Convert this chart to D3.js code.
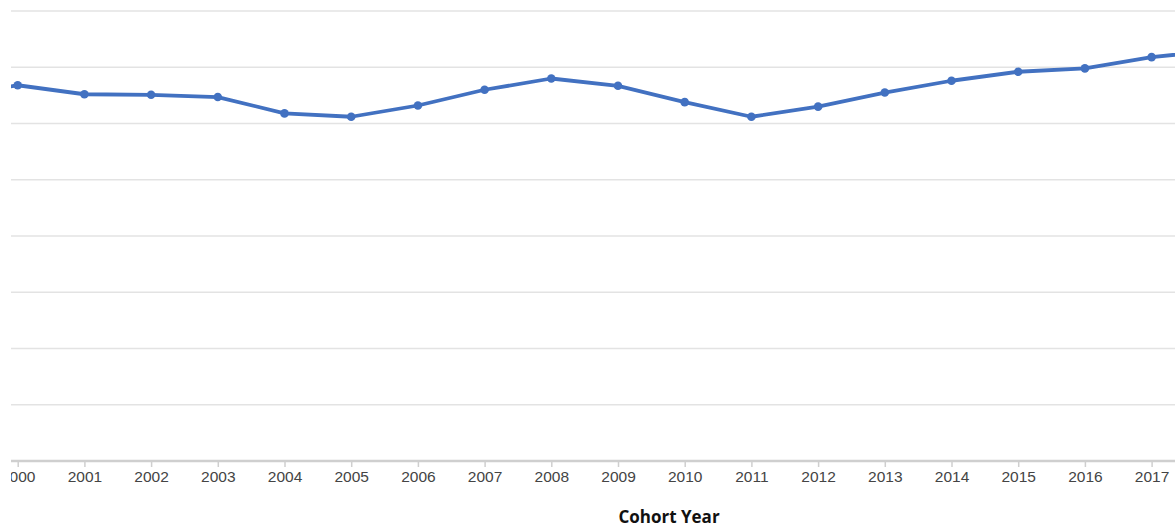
<!DOCTYPE html>
<html>
<head>
<meta charset="utf-8">
<script src="https://cdn.jsdelivr.net/npm/d3@7"></script>
<style>
  html, body { margin: 0; padding: 0; background: #fff; }
  svg { display: block; }
  .grid line { stroke: #e3e3e3; stroke-width: 1.5; }
  .x-axis .domain { stroke: #cfcfcf; stroke-width: 2.5; }
  .x-axis .tick line { stroke: #cfcfcf; stroke-width: 1.5; }
  .x-axis .tick text { font-family: "Liberation Sans", Arial, sans-serif; font-size: 15.5px; fill: #444; }
  .axis-title { font-family: "Open Sans", sans-serif; font-weight: bold; font-size: 17px; fill: #111; }
</style>
</head>
<body>
<div id="chart"></div>
<script>
// Cohort years (1999 and 2018 sit just outside the visible area)
var years = [1999, 2000, 2001, 2002, 2003, 2004, 2005, 2006, 2007, 2008,
             2009, 2010, 2011, 2012, 2013, 2014, 2015, 2016, 2017, 2018];
var rates = [64.9, 66.8, 65.2, 65.1, 64.7, 61.8, 61.2, 63.2, 66.0, 68.0,
             66.7, 63.8, 61.2, 63.0, 65.5, 67.6, 69.2, 69.8, 71.8, 73.0];
var gridValues = [0, 10, 20, 30, 40, 50, 60, 70, 80];
var xTitle = 'Cohort Year';

var width = 1175,
    height = 526,
    clipLeft = 11,
    baseY = 461,
    topY = 11;

var data = years.map(function(y, i) { return { year: y, value: rates[i] }; });

var svg = d3.select('#chart').append('svg')
    .attr('width', width)
    .attr('height', height);

svg.append('defs').append('clipPath')
    .attr('id', 'plot-clip')
  .append('rect')
    .attr('x', clipLeft)
    .attr('y', 0)
    .attr('width', width - clipLeft)
    .attr('height', height);

var x = d3.scaleLinear()
    .domain([2000, 2017])
    .range([17.7, 1151.6]);

var y = d3.scaleLinear()
    .domain([0, 80])
    .range([baseY, topY]);

var plot = svg.append('g')
    .attr('clip-path', 'url(#plot-clip)');

// Horizontal gridlines
plot.append('g')
    .attr('class', 'grid')
  .selectAll('line')
  .data(gridValues.filter(function(d) { return d > 0; }))
  .enter().append('line')
    .attr('x1', clipLeft)
    .attr('x2', width)
    .attr('y1', function(d) { return y(d); })
    .attr('y2', function(d) { return y(d); });

// X axis
var xAxis = d3.axisBottom(x)
    .tickValues(years)
    .tickFormat(d3.format('d'))
    .tickSizeInner(6)
    .tickSizeOuter(0)
    .tickPadding(4);

var gx = plot.append('g')
    .attr('class', 'x-axis')
    .attr('transform', 'translate(0,' + baseY + ')')
    .call(xAxis);
gx.select('.domain').attr('d', 'M' + clipLeft + ',0H' + width);

// Line
var line = d3.line()
    .x(function(d) { return x(d.year); })
    .y(function(d) { return y(d.value); });

plot.append('path')
    .datum(data)
    .attr('fill', 'none')
    .attr('stroke', '#4271c1')
    .attr('stroke-width', 3.8)
    .attr('stroke-linejoin', 'round')
    .attr('d', line);

plot.selectAll('circle.dot')
    .data(data)
  .enter().append('circle')
    .attr('class', 'dot')
    .attr('cx', function(d) { return x(d.year); })
    .attr('cy', function(d) { return y(d.value); })
    .attr('r', 4.3)
    .attr('fill', '#4271c1');

// Axis title
svg.append('text')
    .attr('class', 'axis-title')
    .attr('x', 669)
    .attr('y', 523)
    .attr('text-anchor', 'middle')
    .text(xTitle);
</script>
</body>
</html>
